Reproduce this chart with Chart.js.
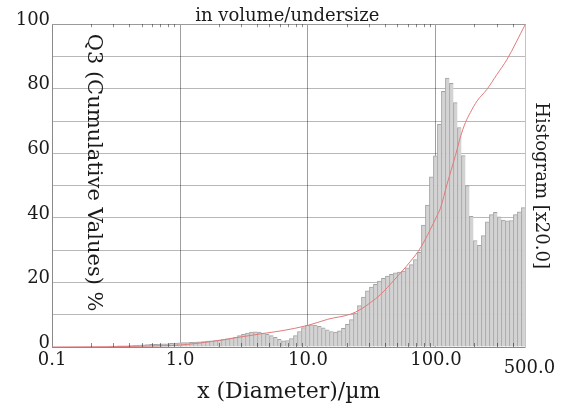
<!DOCTYPE html>
<html>
<head>
<meta charset="utf-8">
<script src="https://cdn.jsdelivr.net/npm/chart.js@4.4.1/dist/chart.umd.min.js"></script>
<style>
  html, body { margin: 0; padding: 0; background: #fff; }
</style>
</head>
<body>
<canvas id="psd" width="561" height="410"></canvas>
<script>
// histogram (plotted x20), one value per bin, smallest size first
const histValues = [
  0.3, 0.3, 0.35, 0.4, 0.4, 0.45, 0.5, 0.6, 0.7, 0.75,
  0.8, 0.85, 0.9, 0.95, 1.0, 1.1, 1.2, 1.3, 1.35, 1.4,
  1.45, 1.5, 1.6, 1.7, 1.8, 1.9, 2.0, 2.1, 2.3, 2.5,
  2.8, 3.1, 3.5, 3.9, 4.3, 4.6, 4.7, 4.6, 4.3, 3.9,
  3.5, 3.0, 2.4, 1.9, 2.0, 2.6, 3.5, 4.8, 6.0, 6.7,
  6.9, 6.8, 6.4, 5.9, 5.3, 4.8, 4.6, 5.0, 5.8, 7.0,
  8.5, 10.5, 12.8, 15.5, 17.4, 18.6, 19.4, 20.4, 21.3, 22.0,
  22.5, 23.0, 23.2, 23.5, 24.5, 25.5, 27.1, 29.3, 37.8, 44.0,
  52.7, 59.2, 69.0, 79.2, 83.3, 81.7, 75.7, 68.0, 59.3, 50.0,
  40.5, 33.0, 31.5, 34.5, 38.8, 41.0, 41.7, 40.3, 39.3, 39.1,
  39.2, 41.0, 41.9, 43.2
];
// geometric bins, 32 per decade, last bin ends at 500 um
const binsPerDecade = 32;
const binTopEdge = 500;

// cumulative Q3 curve
const q3Sizes = [0.1, 0.3, 0.6, 1.0, 1.76, 2.38, 4.31, 6.16, 10, 14.3, 21.6, 25.9, 30.9, 37.0, 47.0,
  63.4, 75.7, 90.6, 100, 108.4, 122.2, 141.9, 155.2, 169.8, 185.5, 209.4, 250, 299.2, 358, 500];
const q3Values = [0, 0.1, 0.3, 0.6, 1.7, 2.5, 4.1, 5.0, 6.7, 8.6, 10.2, 11.7, 13.8, 16.3, 20.7,
  26.6, 30.7, 36.5, 40.0, 43.0, 50.5, 59.3, 65.0, 69.5, 72.6, 76.2, 79.8, 84.4, 89.0, 100];

const xTickValues = [0.1, 1, 10, 100, 500];
const xTickLabels = ['0.1', '1.0', '10.0', '100.0', '500.0'];
const xMinorTicks = [0.2, 0.3, 0.4, 0.5, 0.6, 0.7, 0.8, 0.9, 2, 3, 4, 5, 6, 7, 8, 9,
  20, 30, 40, 50, 60, 70, 80, 90, 200, 300, 400];

const FONT = '"DejaVu Serif", serif';
const INK = '#1a1a1a';

const binCenters = histValues.map((_, i) =>
  binTopEdge * Math.pow(10, -(histValues.length - i - 0.5) / binsPerDecade));

const extras = {
  id: 'extras',
  afterDraw(chart) {
    const { ctx, chartArea: a, scales: { x } } = chart;
    ctx.save();
    // frame top
    ctx.strokeStyle = '#9a9a9a';
    ctx.lineWidth = 1;
    ctx.beginPath();
    ctx.moveTo(a.left, Math.round(a.top) + 0.5);
    ctx.lineTo(a.right, Math.round(a.top) + 0.5);
    ctx.stroke();
    // small log ticks, bottom and top
    ctx.strokeStyle = 'rgba(0,0,0,0.45)';
    ctx.beginPath();
    xMinorTicks.forEach(v => {
      const px = Math.round(x.getPixelForValue(v)) + 0.5;
      ctx.moveTo(px, a.bottom);
      ctx.lineTo(px, a.bottom - 4);
      ctx.moveTo(px, a.top);
      ctx.lineTo(px, a.top + 3);
    });
    ctx.stroke();
    // last x label is set a bit lower in the original
    ctx.fillStyle = INK;
    ctx.font = '18px ' + FONT;
    ctx.textAlign = 'center';
    ctx.textBaseline = 'middle';
    ctx.fillText(xTickLabels[4], x.getPixelForValue(500) + 4, a.bottom + 21);
    // Q3 title sits inside the plot, reading downwards
    ctx.translate(a.left + 41, (a.top + a.bottom) / 2 - 13);
    ctx.rotate(Math.PI / 2);
    ctx.font = '21px ' + FONT;
    ctx.fillText('Q3 (Cumulative Values) %', 0, 0);
    ctx.restore();
  }
};

new Chart(document.getElementById('psd'), {
  type: 'bar',
  data: {
    datasets: [
      {
        type: 'line',
        data: q3Sizes.map((s, i) => ({ x: s, y: q3Values[i] })),
        borderColor: '#e27a7a',
        borderWidth: 1,
        pointRadius: 0,
        cubicInterpolationMode: 'monotone',
        order: 0
      },
      {
        type: 'bar',
        data: binCenters.map((d, i) => ({ x: d, y: histValues[i] })),
        backgroundColor: '#d3d3d3',
        borderColor: '#a2a2a2',
        borderWidth: { left: 1, top: 1, right: 0, bottom: 0 },
        barPercentage: 1,
        categoryPercentage: 1,
        order: 1
      }
    ]
  },
  options: {
    responsive: false,
    animation: false,
    devicePixelRatio: 1,
    layout: { padding: { left: 13.7, right: 0, top: 0, bottom: 4 } },
    plugins: {
      legend: { display: false },
      tooltip: { enabled: false },
      title: {
        display: true,
        text: 'in volume/undersize',
        color: INK,
        font: { family: FONT, size: 18, weight: 'normal', lineHeight: 0.9 },
        padding: { top: 8, bottom: 0 }
      }
    },
    scales: {
      x: {
        type: 'logarithmic',
        min: 0.1,
        max: 500,
        offset: false,
        z: 1,
        afterBuildTicks: s => { s.ticks = xTickValues.map(v => ({ value: v })); },
        ticks: {
          autoSkip: false,
          maxRotation: 0,
          padding: 3,
          color: INK,
          font: { family: FONT, size: 18 },
          callback: v => {
            const i = xTickValues.indexOf(v);
            return (i < 0 || v === 500) ? '' : xTickLabels[i];
          }
        },
        grid: { offset: false, drawTicks: false, color: 'rgba(0,0,0,0.38)' },
        border: { color: '#8a8a8a' },
        title: {
          display: true,
          text: 'x (Diameter)/µm',
          color: INK,
          font: { family: FONT, size: 22 },
          padding: { top: 4, bottom: 1 }
        }
      },
      y: {
        min: 0,
        max: 100,
        z: 1,
        ticks: {
          stepSize: 10,
          padding: 2,
          labelOffset: -4,
          color: INK,
          font: { family: FONT, size: 18 },
          callback: v => (v % 20 === 0 ? String(v) : '')
        },
        grid: { drawTicks: false, color: 'rgba(0,0,0,0.28)' },
        border: { color: '#8a8a8a' }
      },
      y2: {
        position: 'right',
        min: 0,
        max: 100,
        ticks: { display: false },
        grid: { drawOnChartArea: false, drawTicks: false },
        border: { display: true, color: '#c4c4c4' },
        title: {
          display: true,
          text: 'Histogram [x20.0]',
          color: INK,
          font: { family: FONT, size: 18 },
          padding: { top: 10, bottom: 4 }
        }
      }
    }
  },
  plugins: [extras]
});
</script>
</body>
</html>
